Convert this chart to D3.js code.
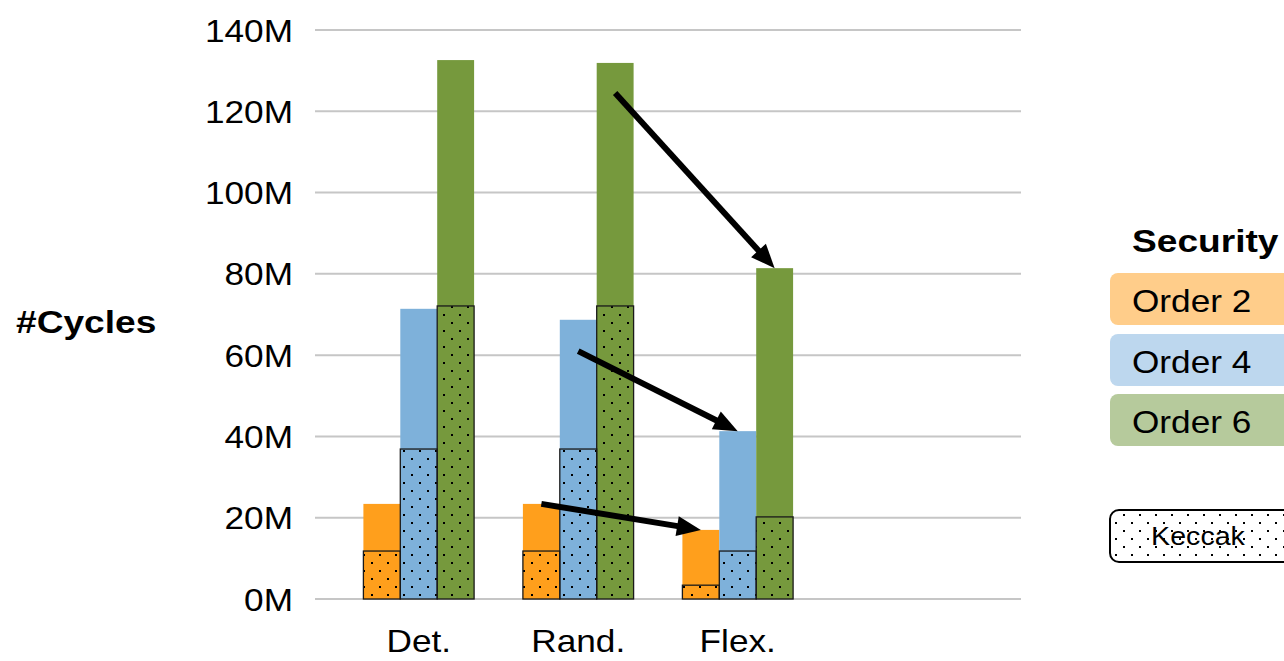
<!DOCTYPE html>
<html>
<head>
<meta charset="utf-8">
<script src="https://cdn.jsdelivr.net/npm/d3@7/dist/d3.min.js"></script>
<style>
  html, body { margin: 0; padding: 0; background: #fff; }
  svg text { font-family: "Liberation Sans", Arial, sans-serif; fill: #000; }
</style>
</head>
<body>
<svg id="chart" width="1284" height="661"></svg>
<script>
// Cycle counts in millions, per masking scheme and security order
const categories = ["Det.", "Rand.", "Flex."];
const seriesNames = ["Order 2", "Order 4", "Order 6"];
const order2Total = [23.4, 23.4, 17.0];
const order4Total = [71.4, 68.7, 41.3];
const order6Total = [132.6, 131.9, 81.4];
// Portion of each bar spent in Keccak
const order2Keccak = [11.8, 11.8, 3.4];
const order4Keccak = [36.9, 36.9, 11.8];
const order6Keccak = [72.1, 72.1, 20.2];
const yTicks = [0, 20, 40, 60, 80, 100, 120, 140];
// Improvement arrows: from a Rand. bar (at a value) to the top of the Flex. bar
const arrowSeries = [0, 1, 2];
const arrowStartValues = [23.4, 61.0, 124.5];

const barColors = ["#FF9F1C", "#7EB1DA", "#76993D"];
const legendColors = ["#FFCD8A", "#BDD7EE", "#B6CA9C"];

const totals = [order2Total, order4Total, order6Total];
const keccak = [order2Keccak, order4Keccak, order6Keccak];

const svg = d3.select("#chart");
const stretch = 1.1;
const boldStretch = 1.16;

const plotLeft = 315, plotRight = 1021;
const y = d3.scaleLinear().domain([0, 140]).range([599, 30]);
const x = d3.scaleBand().domain(categories).range([339, 817.5])
  .paddingInner(0.306).paddingOuter(0.153);
const xs = d3.scaleBand().domain(d3.range(seriesNames.length)).range([0, x.bandwidth()]);

// dot fill pattern for the Keccak portion
const defs = svg.append("defs");
const pat = defs.append("pattern").attr("id", "dots")
  .attr("patternUnits", "userSpaceOnUse").attr("width", 16).attr("height", 16)
  .attr("x", 3).attr("y", 2);
pat.append("rect").attr("x", 0).attr("y", 0).attr("width", 2).attr("height", 2).attr("fill", "#000");
pat.append("rect").attr("x", 8).attr("y", 8).attr("width", 2).attr("height", 2).attr("fill", "#000");

// gridlines
svg.append("g").selectAll("line").data(yTicks).join("line")
  .attr("x1", plotLeft).attr("x2", plotRight)
  .attr("y1", d => y(d)).attr("y2", d => y(d))
  .attr("stroke", "#C6C6C6").attr("stroke-width", 2);

// y tick labels
svg.append("g").selectAll("text").data(yTicks).join("text")
  .attr("transform", d => `translate(293,${y(d)}) scale(${stretch},1)`)
  .attr("dy", "0.36em").attr("text-anchor", "end")
  .style("font-size", "32px")
  .text(d => d + "M");

// y axis title
svg.append("text")
  .attr("transform", `translate(16,333) scale(${boldStretch},1)`)
  .style("font-size", "32px").style("font-weight", "bold")
  .text("#Cycles");

// x category labels
svg.append("g").selectAll("text").data(categories).join("text")
  .attr("transform", d => `translate(${x(d) + x.bandwidth() / 2},652) scale(${stretch},1)`)
  .attr("text-anchor", "middle")
  .style("font-size", "32px")
  .text(d => d);

// bars
const barData = [];
categories.forEach((c, ci) => {
  seriesNames.forEach((s, si) => {
    barData.push({ c, si, total: totals[si][ci], keccak: keccak[si][ci] });
  });
});
const bars = svg.append("g");
bars.selectAll("rect.total").data(barData).join("rect").attr("class", "total")
  .attr("x", d => x(d.c) + xs(d.si)).attr("width", xs.bandwidth())
  .attr("y", d => y(d.total)).attr("height", d => y(0) - y(d.total))
  .attr("fill", d => barColors[d.si]);
bars.selectAll("rect.kfill").data(barData).join("rect").attr("class", "kfill")
  .attr("x", d => x(d.c) + xs(d.si)).attr("width", xs.bandwidth())
  .attr("y", d => y(d.keccak)).attr("height", d => y(0) - y(d.keccak))
  .attr("fill", "url(#dots)")
  .attr("stroke", "#1a1a1a").attr("stroke-width", 1.3);

// arrows
const arrows = svg.append("g");
arrowSeries.forEach((si, i) => {
  const x0 = x("Rand.") + xs(si) + xs.bandwidth() / 2;
  const y0 = y(arrowStartValues[i]);
  const x1 = x("Flex.") + xs(si) + xs.bandwidth() / 2;
  const y1 = y(totals[si][2]);
  const dx = x1 - x0, dy = y1 - y0, len = Math.hypot(dx, dy);
  const ux = dx / len, uy = dy / len;
  const headLen = 24, headHalf = 10;
  const bx = x1 - ux * headLen, by = y1 - uy * headLen;
  arrows.append("line")
    .attr("x1", x0).attr("y1", y0).attr("x2", bx + ux * 2).attr("y2", by + uy * 2)
    .attr("stroke", "#000").attr("stroke-width", 6);
  arrows.append("path")
    .attr("d", `M${x1},${y1}L${bx - uy * headHalf},${by + ux * headHalf}L${bx + uy * headHalf},${by - ux * headHalf}Z`)
    .attr("fill", "#000");
});

// legend
const legend = svg.append("g");
legend.append("text")
  .attr("transform", `translate(1132,252) scale(${boldStretch},1)`)
  .style("font-size", "32px").style("font-weight", "bold")
  .text("Security");
const boxTops = [273, 334, 394];
seriesNames.forEach((s, i) => {
  legend.append("rect")
    .attr("x", 1110).attr("y", boxTops[i]).attr("width", 190).attr("height", 52)
    .attr("rx", 8).attr("fill", legendColors[i]);
  legend.append("text")
    .attr("transform", `translate(1132,${boxTops[i] + 39}) scale(${stretch},1)`)
    .style("font-size", "32px")
    .text(s);
});
legend.append("rect")
  .attr("x", 1110).attr("y", 510).attr("width", 190).attr("height", 52)
  .attr("rx", 9).attr("fill", "#fff").attr("stroke", "#000").attr("stroke-width", 2);
legend.append("rect")
  .attr("x", 1112).attr("y", 512).attr("width", 186).attr("height", 48)
  .attr("rx", 8).attr("fill", "url(#dots)");
legend.append("text")
  .attr("transform", `translate(1198,545) scale(${stretch},1)`)
  .attr("text-anchor", "middle")
  .style("font-size", "26px")
  .text("Keccak");
</script>
</body>
</html>
